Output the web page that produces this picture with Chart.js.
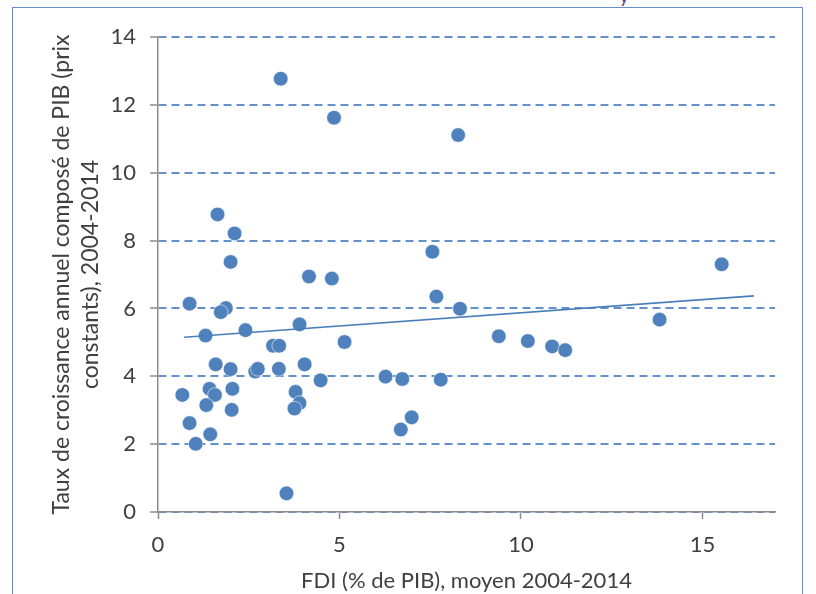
<!DOCTYPE html>
<html lang="fr">
<head>
<meta charset="utf-8">
<title>FDI et croissance du PIB, 2004-2014</title>
<script src="https://cdn.jsdelivr.net/npm/chart.js@4.4.1/dist/chart.umd.min.js"></script>
<style>
  html, body { margin: 0; padding: 0; background: #ffffff; overflow: hidden; }
  body { width: 816px; height: 594px; position: relative; }
  #frame {
    position: absolute; left: 12px; top: 7px; width: 791px; height: 640px;
    border: 1.5px solid #6990CA; border-bottom: none; box-sizing: border-box;
  }
  #cut {
    position: absolute; left: 619px; top: -17px; margin: 0;
    font: 20px Lato, sans-serif; color: #5A4796;
  }
  #chart { position: absolute; left: 0; top: 0; }
</style>
</head>
<body>
<div id="frame"></div>
<div id="cut">y</div>
<canvas id="chart" width="816" height="594"></canvas>
<script>
// FDI inflows (% of GDP), average 2004-2014
const fdiX = [
  3.38, 4.85, 8.27, 1.64, 2.11, 2.00, 7.56, 4.16, 4.79, 15.53,
  0.87, 7.67, 1.87, 1.73, 8.32, 3.90, 2.41, 1.31, 9.39, 10.19,
  10.86, 11.22, 13.82, 5.14, 3.17, 3.34, 1.59, 2.00, 2.68, 2.75,
  3.33, 4.04, 4.48, 0.67, 1.42, 1.57, 2.05, 1.33, 2.03, 3.79,
  3.90, 3.76, 0.87, 1.44, 1.04, 3.54, 6.27, 6.73, 7.79, 6.99,
  6.69
];
// Compound annual GDP growth (constant prices), 2004-2014
const growthY = [
  12.77, 11.62, 11.11, 8.77, 8.21, 7.37, 7.67, 6.94, 6.88, 7.30,
  6.14, 6.35, 6.01, 5.89, 5.99, 5.53, 5.36, 5.20, 5.18, 5.04,
  4.88, 4.77, 5.67, 5.01, 4.90, 4.90, 4.35, 4.21, 4.14, 4.22,
  4.22, 4.35, 3.88, 3.45, 3.63, 3.45, 3.63, 3.15, 3.01, 3.54,
  3.21, 3.05, 2.62, 2.29, 2.01, 0.55, 3.99, 3.92, 3.90, 2.79,
  2.43
];
// Linear trend line end points
const trendX = [0.72, 16.42];
const trendY = [5.15, 6.37];

// Axis settings
const xTicks = [0, 5, 10, 15];
const xMin = 0, xMax = 17;
const yMin = 0, yMax = 14, yStep = 2;

const xTitle = 'FDI (% de PIB), moyen 2004-2014';
const yTitle = ['Taux de croissance annuel composé de PIB (prix', 'constants), 2004-2014'];

const pointData = fdiX.map((x, i) => ({ x: x, y: growthY[i] }));
const trendData = trendX.map((x, i) => ({ x: x, y: trendY[i] }));

const textColor = '#404040';
const axisGray = '#8C8C8C';
const fontFamily = 'Lato, "Open Sans", sans-serif';

new Chart(document.getElementById('chart'), {
  type: 'scatter',
  data: {
    datasets: [
      {
        label: 'Tendance',
        data: trendData,
        showLine: true,
        borderColor: '#4A7EBB',
        borderWidth: 1.6,
        pointRadius: 0,
        fill: false,
        order: 0
      },
      {
        label: 'Pays',
        data: pointData,
        backgroundColor: '#4F81BD',
        borderColor: 'rgba(255,255,255,0.55)',
        borderWidth: 1,
        pointRadius: 7.3,
        order: 1
      }
    ]
  },
  options: {
    responsive: false,
    animation: false,
    devicePixelRatio: 1,
    layout: { padding: { left: 0, top: 37, right: 41, bottom: 0 } },
    plugins: { legend: { display: false }, tooltip: { enabled: false } },
    scales: {
      x: {
        type: 'linear',
        min: xMin,
        max: xMax,
        afterFit: (s) => { s.height = 82; },
        afterBuildTicks: (s) => { s.ticks = xTicks.map(v => ({ value: v })); },
        ticks: {
          includeBounds: false,
          padding: 13,
          color: textColor,
          font: { family: fontFamily, size: 22 }
        },
        grid: {
          drawOnChartArea: false,
          drawTicks: true,
          tickLength: 7,
          tickColor: axisGray,
          tickWidth: 1.5
        },
        border: { color: axisGray, width: 1.5 },
        title: {
          display: true,
          text: xTitle,
          color: textColor,
          font: { family: fontFamily, size: 22 },
          padding: { top: 0, bottom: 0 }
        }
      },
      y: {
        type: 'linear',
        min: yMin,
        max: yMax,
        afterFit: (s) => { s.width = 158; },
        ticks: {
          stepSize: yStep,
          padding: 14,
          color: textColor,
          font: { family: fontFamily, size: 22 }
        },
        grid: {
          color: '#6391CB',
          lineWidth: 2,
          drawTicks: true,
          tickLength: 8,
          tickColor: axisGray,
          tickWidth: 1.5,
          tickBorderDash: []
        },
        border: { color: axisGray, width: 1.5, dash: [8, 5] },
        title: {
          display: true,
          text: yTitle,
          color: textColor,
          font: { family: fontFamily, size: 23, lineHeight: 1.26 },
          padding: { top: 47, bottom: 0 }
        }
      }
    }
  }
});
</script>
</body>
</html>
